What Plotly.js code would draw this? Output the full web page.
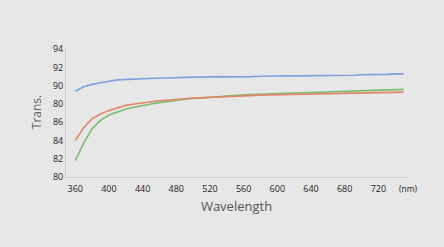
<!DOCTYPE html>
<html><head><meta charset="utf-8">
<script src="https://cdn.plot.ly/plotly-3.0.1.min.js"></script>
<style>html,body{margin:0;padding:0;background:#e7e7e7;}#c{width:444px;height:247px;}</style>
</head><body><div id="c"></div>
<script>
var wavelength = [360,370,380,390,400,410,420,430,440,450,460,470,480,490,500,510,520,530,540,550,560,570,580,590,600,610,620,630,640,650,660,670,680,690,700,710,720,730,740,750];
var blue = [89.4,89.9,90.15,90.35,90.5,90.65,90.7,90.7,90.75,90.8,90.85,90.85,90.9,90.9,90.95,90.95,91.0,91.0,90.98,90.97,91.0,91.0,91.05,91.08,91.1,91.1,91.08,91.08,91.1,91.1,91.12,91.15,91.15,91.15,91.2,91.2,91.22,91.25,91.3,91.3];
var red = [84.0,85.4,86.4,86.9,87.3,87.6,87.85,88.0,88.15,88.25,88.35,88.45,88.5,88.58,88.65,88.7,88.75,88.8,88.85,88.88,88.92,88.95,88.98,89.0,89.02,89.05,89.07,89.08,89.1,89.12,89.13,89.15,89.17,89.18,89.2,89.2,89.22,89.25,89.28,89.3];
var green = [81.8,83.7,85.3,86.2,86.8,87.15,87.45,87.65,87.85,88.0,88.15,88.3,88.42,88.52,88.6,88.68,88.75,88.82,88.9,88.95,89.0,89.05,89.1,89.13,89.15,89.18,89.2,89.23,89.25,89.28,89.3,89.32,89.35,89.38,89.4,89.42,89.45,89.5,89.55,89.6];
var xTicks = [360,400,440,480,520,560,600,640,680,720];
var yTicks = [80,82,84,86,88,90,92,94];
var yTickText = ['80','82','84','86','80','90','92','94'];

var traces = [
  {x: wavelength, y: green, mode: 'lines', line: {color: '#7cbd6f', width: 1.6}},
  {x: wavelength, y: red, mode: 'lines', line: {color: '#e3856c', width: 1.6}},
  {x: wavelength, y: blue, mode: 'lines', line: {color: '#7fa2dd', width: 1.6}}
];
var layout = {
  width: 444, height: 247,
  paper_bgcolor: '#e7e7e7', plot_bgcolor: '#e7e7e7',
  margin: {l: 66, r: 37, t: 47, b: 70},
  showlegend: false,
  font: {family: 'Open Sans, sans-serif', color: '#222'},
  xaxis: {
    range: [349, 754], tickvals: xTicks, ticktext: xTicks.map(String),
    showgrid: false, zeroline: false, showline: true, linecolor: '#cacaca', linewidth: 1,
    ticks: '', tickfont: {size: 9, color: '#222'}, ticklabelstandoff: 3,
    title: {text: 'Wavelength', font: {size: 13, color: '#555'}, standoff: 8}
  },
  yaxis: {
    range: [80, 94.25], tickvals: yTicks, ticktext: yTickText,
    showgrid: false, zeroline: false, showline: true, linecolor: '#cacaca', linewidth: 1,
    ticks: '', tickfont: {size: 9, color: '#222'},
    title: {text: 'Trans.', font: {size: 12, color: '#666'}, standoff: 8}
  },
  annotations: [{text: '(nm)', xref: 'paper', yref: 'paper', x: 0.97, y: -0.085, xanchor: 'left', yanchor: 'middle', showarrow: false, font: {size: 8.5, color: '#222'}}]
};
Plotly.newPlot('c', traces, layout, {displayModeBar: false, staticPlot: true});
</script></body></html>
